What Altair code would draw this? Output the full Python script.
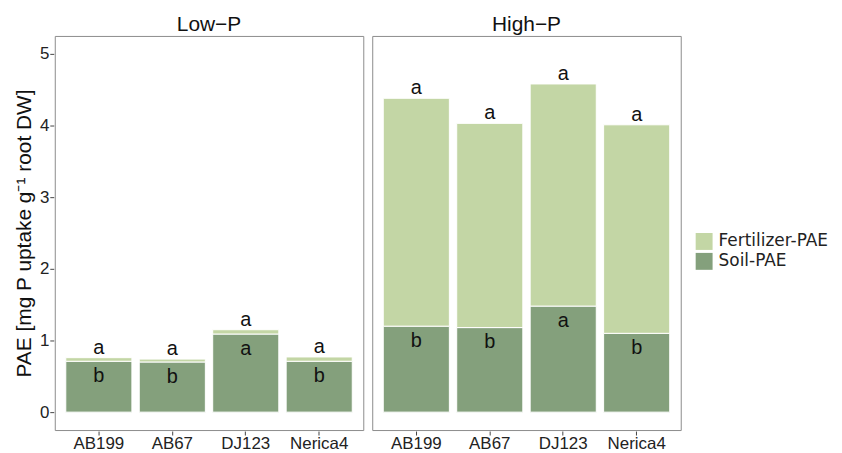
import altair as alt
import pandas as pd

treatments = ["Low−P"] * 4 + ["High−P"] * 4
genotypes = ["AB199", "AB67", "DJ123", "Nerica4"] * 2
soil_pae = [0.71, 0.70, 1.09, 0.71, 1.20, 1.18, 1.48, 1.10]
fert_pae = [0.05, 0.04, 0.06, 0.06, 3.18, 2.85, 3.10, 2.91]
letter_total = ["a", "a", "a", "a", "a", "a", "a", "a"]
letter_soil = ["b", "b", "a", "b", "b", "b", "a", "b"]

df = pd.DataFrame({
    "Treatment": treatments,
    "Genotype": genotypes,
    "Soil-PAE": soil_pae,
    "Fertilizer-PAE": fert_pae,
    "lt": letter_total,
    "ls": letter_soil,
})

LIGHT = "#c3d6a5"
DARK = "#84a07c"
FONT = "Liberation Sans"

xenc = alt.X("Genotype:N", sort=["AB199", "AB67", "DJ123", "Nerica4"], title=None,
             scale=alt.Scale(paddingInner=0.1, paddingOuter=0.15))
yscale = alt.Scale(domain=[-0.25, 5.25], nice=False, zero=False)

bars = alt.Chart().transform_fold(
    ["Soil-PAE", "Fertilizer-PAE"], as_=["component", "value"]
).transform_calculate(
    ord="datum.component == 'Soil-PAE' ? 0 : 1"
).mark_bar(stroke="white", strokeWidth=1).encode(
    x=xenc,
    y=alt.Y("sum(value):Q", scale=yscale, stack="zero",
            title="PAE [mg P uptake g⁻¹ root DW]",
            axis=alt.Axis(values=[0, 1, 2, 3, 4, 5], format="d", titlePadding=5)),
    color=alt.Color("component:N",
                    scale=alt.Scale(domain=["Fertilizer-PAE", "Soil-PAE"], range=[LIGHT, DARK]),
                    legend=alt.Legend(title=None, symbolType="square", symbolSize=289,
                                      labelFont="DejaVu Sans", labelFontSize=17, labelColor="#222",
                                      symbolStrokeWidth=0, rowPadding=2, labelOffset=6,
                                      orient="none", legendX=644, legendY=198)),
    order=alt.Order("ord:Q"),
)

top_text = alt.Chart().transform_calculate(
    total="datum['Soil-PAE'] + datum['Fertilizer-PAE']"
).mark_text(baseline="alphabetic", dy=-4, fontSize=20, font=FONT, color="#111").encode(
    x=xenc,
    y=alt.Y("total:Q", scale=yscale),
    text="lt:N",
)

soil_text = alt.Chart().mark_text(baseline="top", dy=5, fontSize=20, font=FONT, color="#111").encode(
    x=xenc,
    y=alt.Y("Soil-PAE:Q", scale=yscale),
    text="ls:N",
)

chart = alt.layer(bars, top_text, soil_text, data=df).properties(
    width=310, height=396
).facet(
    column=alt.Column("Treatment:N", sort=["Low−P", "High−P"],
                      header=alt.Header(title=None, labelFontSize=21, labelFont=FONT,
                                        labelColor="#111", labelPadding=0))
).configure_facet(
    spacing=7
).configure_view(
    stroke="#8c8c8c", strokeWidth=1
).configure_axis(
    labelFont=FONT, labelFontSize=17, labelColor="#222", titleFont=FONT,
    titleFontSize=21, titleFontWeight="normal", titleColor="#111",
    tickColor="#444", tickSize=4, domain=False, grid=False, labelAngle=0,
    labelPadding=1,
)

chart.save("out.html", embed_options={"renderer": "svg", "actions": False})
